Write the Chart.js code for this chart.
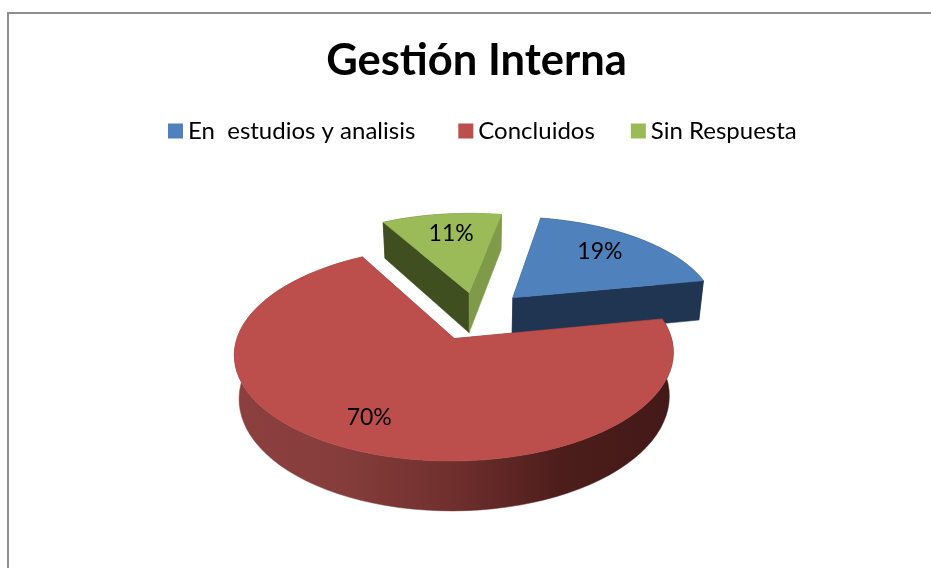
<!DOCTYPE html>
<html>
<head>
<meta charset="utf-8">
<title>Gestión Interna</title>
<script src="https://cdn.jsdelivr.net/npm/chart.js@4"></script>
<style>
  html, body { margin: 0; padding: 0; background: #fff; overflow: hidden; }
  #frame { position: absolute; left: 7px; top: 12px; width: 924px; height: 556px;
           border-left: 2px solid #8e8e8e; border-top: 2px solid #8e8e8e; box-sizing: border-box; }
  #wrap { position: absolute; left: 0; top: 0; width: 931px; height: 568px; }
</style>
</head>
<body>
<div id="frame"></div>
<div id="wrap"><canvas id="plot1"></canvas></div>
<script>
const titleText = 'Gestión Interna';
const categories = ['En  estudios y analisis', 'Concluidos', 'Sin Respuesta'];
const values = [19, 70, 11];

const colors = ['#4f81bd', '#bc4e4b', '#9bbb59'];
const startFaces = ['#2b4668', '#6e2e2c', '#404f20'];
const endFaces = ['#1f3552', '#6e2e2c', '#7f9a48'];
const wallStops = [
  ['#1f3552', '#1f3552'],
  ['#8c403e', '#853d3b', '#6f2f2d', '#4c1d1b', '#431917'],
  ['#404f20', '#7f9a48'],
];
const explode = [59, 40, 56.6];
const explodeTurn = [-5.3, 1.9, 4.4];
const sliceSize = [0.965, 0.99, 0.96];
const labelReach = [0.695, 0.754, 0.7];
const labelTurn = [-3, 2, 1.3];
const legendGaps = [43, 36];

// how the flat pie is laid over to look 3d
const view = { sx: 1.07, sy: 0.5045, persp: 0.14, depth: 41.7, shrink: 0.98, shiftX: -2.5, shiftY: -12 };

function projector(arc) {
  const cx = arc.x + view.shiftX;
  const cy = arc.y + view.shiftY;
  const R = arc.outerRadius;
  return function (u, v, down) {
    const den = 1 + view.persp * v;
    let x = cx + (view.sx * R * u) / den;
    let y = cy - (view.sy * R * v) / den;
    if (down) {
      x = cx + (x - cx) * view.shrink;
      y += view.depth / den;
    }
    return { x: x, y: y };
  };
}

function sliceGeometry(arc, i) {
  const mid = (arc.startAngle + arc.endAngle) / 2;
  const dir = mid + (explodeTurn[i] * Math.PI) / 180;
  const e = arc.options.offset / arc.outerRadius;
  const u0 = Math.cos(dir) * e;
  const v0 = -Math.sin(dir) * e;
  const rim = [];
  const steps = 80;
  for (let k = 0; k <= steps; k++) {
    const t = arc.startAngle + ((arc.endAngle - arc.startAngle) * k) / steps;
    rim.push({ u: u0 + Math.cos(t) * sliceSize[i], v: v0 - Math.sin(t) * sliceSize[i] });
  }
  return { u0: u0, v0: v0, mid: mid, rim: rim };
}

function fillPoly(ctx, pts, fill) {
  ctx.beginPath();
  pts.forEach((p, i) => (i ? ctx.lineTo(p.x, p.y) : ctx.moveTo(p.x, p.y)));
  ctx.closePath();
  ctx.fillStyle = fill;
  ctx.fill();
  ctx.strokeStyle = fill;
  ctx.lineWidth = 0.5;
  ctx.stroke();
}

const pie3d = {
  id: 'pie3d',
  beforeDatasetDraw(chart, args) {
    const ctx = chart.ctx;
    const arcs = args.meta.data;

    // sides first, the top faces go over them
    arcs.forEach((arc, i) => {
      const g = sliceGeometry(arc, i);
      const P = projector(arc);
      const apexTop = P(g.u0, g.v0, false);
      const apexLow = P(g.u0, g.v0, true);
      const top = g.rim.map((r) => P(r.u, r.v, false));
      const low = g.rim.map((r) => P(r.u, r.v, true));
      const last = top.length - 1;

      const xs = top.map((p) => p.x);
      const grad = ctx.createLinearGradient(Math.min(...xs), 0, Math.max(...xs), 0);
      wallStops[i].forEach((c, k) => grad.addColorStop(k / (wallStops[i].length - 1), c));
      fillPoly(ctx, top.concat(low.slice().reverse()), grad);

      fillPoly(ctx, [apexTop, top[0], low[0], apexLow], startFaces[i]);
      fillPoly(ctx, [apexTop, top[last], low[last], apexLow], endFaces[i]);
    });

    arcs.forEach((arc, i) => {
      const g = sliceGeometry(arc, i);
      const P = projector(arc);
      const pts = [P(g.u0, g.v0, false)].concat(g.rim.map((r) => P(r.u, r.v, false)));
      fillPoly(ctx, pts, colors[i]);
    });

    ctx.fillStyle = '#000';
    ctx.font = '23px Lato';
    ctx.textAlign = 'center';
    ctx.textBaseline = 'middle';
    arcs.forEach((arc, i) => {
      const g = sliceGeometry(arc, i);
      const P = projector(arc);
      const t = g.mid + (labelTurn[i] * Math.PI) / 180;
      const p = P(g.u0 + Math.cos(t) * labelReach[i], g.v0 - Math.sin(t) * labelReach[i], false);
      ctx.fillText(values[i] + '%', p.x, p.y);
    });
    return false;
  },
  afterDraw(chart) {
    // legend by hand, the built in one keeps too wide a gap after the box
    const ctx = chart.ctx;
    const box = 15, gap = 5;
    const legendLeft = 168, legendY = 131;
    ctx.save();
    ctx.font = '24px Lato';
    ctx.textBaseline = 'middle';
    ctx.textAlign = 'left';
    let x = legendLeft;
    categories.forEach((c, i) => {
      ctx.fillStyle = colors[i];
      ctx.fillRect(x, legendY - box / 2, box, box);
      ctx.fillStyle = '#000';
      ctx.fillText(c, x + box + gap, legendY);
      x += box + gap + ctx.measureText(c).width + (legendGaps[i] || 0);
    });
    ctx.restore();
  },
};

new Chart(document.getElementById('plot1'), {
  type: 'pie',
  data: {
    labels: categories,
    datasets: [{ data: values, backgroundColor: colors, offset: explode, borderWidth: 0, clip: false }],
  },
  options: {
    responsive: true,
    maintainAspectRatio: false,
    animation: false,
    rotation: 10.5,
    radius: 200,
    layout: { padding: { left: 22 } },
    plugins: {
      title: {
        display: true,
        text: titleText,
        color: '#000',
        font: { family: 'Lato', size: 43.5, weight: 'bold' },
        padding: { top: 35, bottom: 9 },
      },
      legend: { display: false },
      tooltip: { enabled: false },
    },
  },
  plugins: [pie3d],
});
</script>
</body>
</html>
